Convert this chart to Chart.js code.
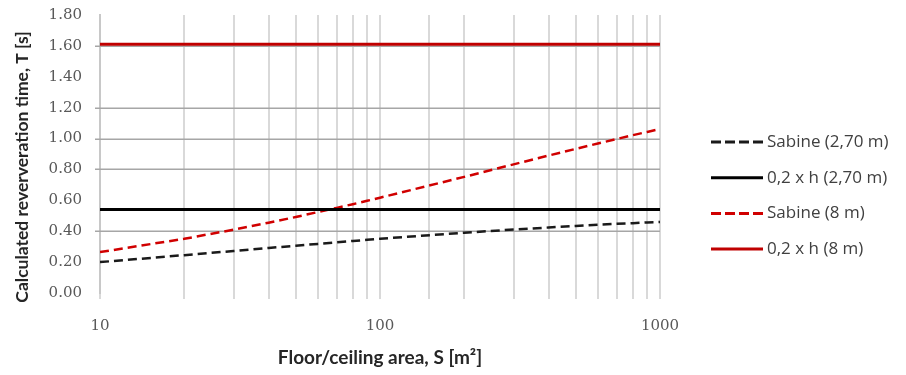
<!DOCTYPE html>
<html>
<head>
<meta charset="utf-8">
<script src="https://cdn.jsdelivr.net/npm/chart.js@4.4.1/dist/chart.umd.min.js"></script>
<style>
  html, body { margin: 0; padding: 0; background: #fff; }
  #wrap { width: 906px; height: 375px; position: relative; }
</style>
</head>
<body>
<div id="wrap"><canvas id="c" width="906" height="375"></canvas></div>
<script>
// floor/ceiling area S [m2]
var areas = [10, 20, 30, 40, 50, 60, 70, 80, 90, 100, 200, 300, 400, 500, 600, 700, 800, 900, 1000];

// reverberation time T [s]
var sabine270 = [0.200, 0.245, 0.272, 0.292, 0.306, 0.318, 0.328, 0.337, 0.344, 0.351,
                 0.390, 0.411, 0.424, 0.434, 0.442, 0.448, 0.452, 0.457, 0.460];
var sabine8   = [0.265, 0.351, 0.410, 0.455, 0.492, 0.524, 0.551, 0.575, 0.597, 0.617,
                 0.752, 0.833, 0.890, 0.933, 0.968, 0.997, 1.022, 1.043, 1.062];
var rule270 = 0.54;
var rule8 = 1.61;

var xLabels = [10, 100, 1000];
var yTicks = ['0.00', '0.20', '0.40', '0.60', '0.80', '1.00', '1.20', '1.40', '1.60', '1.80'];
// only these horizontal gridlines show in the original
var yGridShown = [0.4, 0.8, 1.0, 1.2, 1.6];

function pts(vals){
  var ret = [];
  for (var i = 0, l = areas.length; i < l; i++) {
    ret.push({ x: areas[i], y: vals[i] });
  }
  return ret;
}
function flat(v){
  var ret = [];
  for (var i = 0, l = areas.length; i < l; i++) {
    ret.push({ x: areas[i], y: v });
  }
  return ret;
}

var datasets = [
  { label: 'Sabine (2,70 m)',  data: pts(sabine270), borderColor: '#1a1a1a', borderWidth: 2.5, borderDash: [9, 5] },
  { label: '0,2 x h (2,70 m)', data: flat(rule270),  borderColor: '#000000', borderWidth: 3 },
  { label: 'Sabine (8 m)',     data: pts(sabine8),   borderColor: '#d00000', borderWidth: 2.5, borderDash: [9, 5] },
  { label: '0,2 x h (8 m)',    data: flat(rule8),    borderColor: '#c00000', borderWidth: 3 }
];

var yGrid = {
  id: 'yGrid',
  beforeDatasetsDraw: function(chart){
    var ctx = chart.ctx, y = chart.scales.y, area = chart.chartArea;
    ctx.save();
    ctx.strokeStyle = '#a6a6a6';
    ctx.lineWidth = 1.5;
    for (var i = 0; i < yGridShown.length; i++) {
      var py = Math.round(y.getPixelForValue(yGridShown[i])) + 0.25;
      ctx.beginPath();
      ctx.moveTo(area.left - 5, py);
      ctx.lineTo(area.right, py);
      ctx.stroke();
    }
    ctx.restore();
  }
};

var sideLegend = {
  id: 'sideLegend',
  afterDraw: function(chart){
    var ctx = chart.ctx;
    var ds = chart.data.datasets;
    ctx.save();
    ctx.font = '17px "Open Sans"';
    ctx.textBaseline = 'middle';
    ctx.fillStyle = '#404040';
    for (var i = 0; i < ds.length; i++) {
      var y = 142 + i * 35.7;
      ctx.beginPath();
      ctx.setLineDash(ds[i].borderDash ? [10, 4] : []);
      ctx.lineWidth = 3;
      ctx.strokeStyle = ds[i].borderColor;
      ctx.moveTo(711, y);
      ctx.lineTo(763, y);
      ctx.stroke();
      ctx.setLineDash([]);
      ctx.fillText(ds[i].label, 767, y);
    }
    // y axis title
    ctx.translate(22, 167);
    ctx.rotate(-Math.PI / 2);
    ctx.textAlign = 'center';
    ctx.fillStyle = '#262626';
    ctx.font = 'bold 17.5px Lato';
    ctx.fillText('Calculated reververation time, T [s]', 0, 0);
    ctx.restore();
  }
};

new Chart(document.getElementById('c'), {
  type: 'line',
  data: { datasets: datasets },
  options: {
    responsive: false,
    animation: false,
    layout: { padding: { top: 15, right: 246, left: 0, bottom: 0 } },
    elements: { point: { radius: 0 }, line: { tension: 0, fill: false } },
    plugins: { legend: { display: false }, tooltip: { enabled: false } },
    scales: {
      x: {
        type: 'logarithmic',
        min: 10,
        max: 1000,
        border: { display: false },
        grid: { color: '#d9d9d9', lineWidth: 2, tickLength: 6 },
        ticks: {
          autoSkip: false,
          maxRotation: 0,
          padding: 18,
          color: '#595959',
          font: { family: 'DejaVu Serif', size: 15 },
          callback: function(v){ return xLabels.indexOf(v) >= 0 ? String(v) : ''; }
        },
        title: {
          display: true,
          text: 'Floor/ceiling area, S [m\u00b2]',
          color: '#262626',
          font: { family: 'Lato', size: 19, weight: 'bold' },
          padding: { top: 0, bottom: 6 }
        },
        afterFit: function(scale){ scale.height = 82; }
      },
      y: {
        min: 0,
        max: 1.8,
        border: { display: true, color: '#c8c8c8', width: 2 },
        grid: { display: false, drawTicks: false, tickLength: 5 },
        ticks: {
          stepSize: 0.2,
          padding: 18,
          color: '#595959',
          font: { family: 'DejaVu Serif', size: 15 },
          callback: function(v, idx){ return yTicks[idx]; }
        },
        afterFit: function(scale){
          scale.width = 100;
          scale.paddingTop = 0;
          scale.paddingBottom = 0;
        }
      }
    }
  },
  plugins: [yGrid, sideLegend]
});
</script>
</body>
</html>
